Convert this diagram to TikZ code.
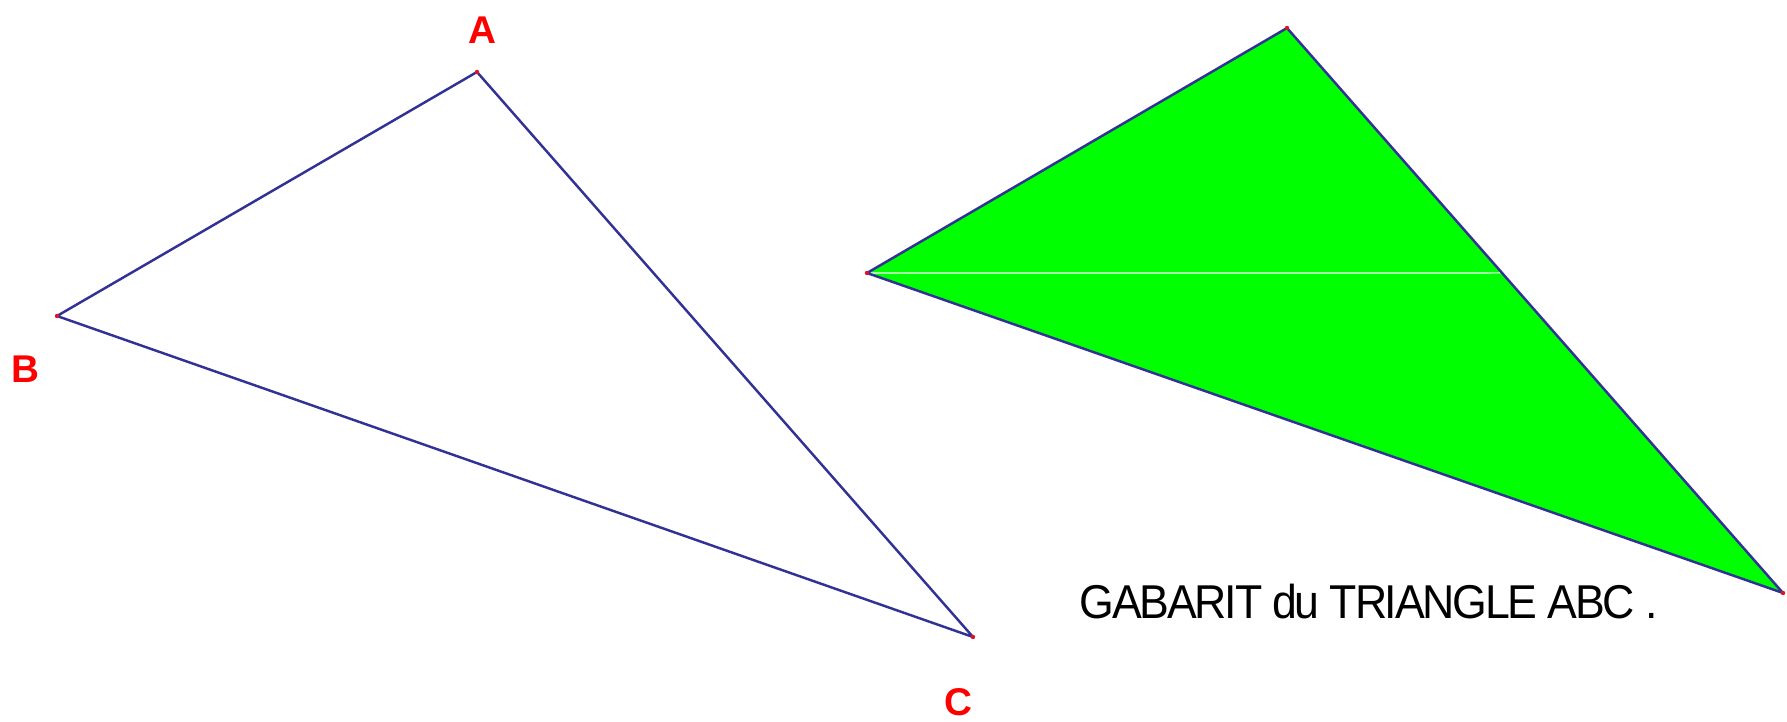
\documentclass[tikz,border=0pt]{standalone}
\usepackage{fontspec}
\setmainfont{Liberation Sans}
\usepackage{xcolor}
\usetikzlibrary{positioning,calc}

\definecolor{edgeblue}{RGB}{50,50,150}
\definecolor{pointred}{RGB}{220,20,40}
\definecolor{gabgreen}{RGB}{0,255,0}

\begin{document}
\begin{tikzpicture}[x=0.01cm,y=-0.01cm]
    \useasboundingbox (0,0) rectangle (1787,722);
    % triangle ABC
    \coordinate (A) at (477,72);
    \coordinate (B) at (57,316);
    \coordinate (C) at (973,637);
    \draw[edgeblue, line width=0.7pt, line join=round] (A) -- (B) -- (C) -- cycle;
    \foreach \p in {A,B,C} \fill[pointred] (\p) circle (2.2);
    \node[text=red, font=\bfseries\fontsize{11}{13}\selectfont] (labA) at (482,30) {A};
    \node[text=red, font=\bfseries\fontsize{11}{13}\selectfont] (labB) at (25,369) {B};
    \node[text=red, font=\bfseries\fontsize{11}{13}\selectfont] (labC) at (958,702) {C};
    
    % gabarit
    \coordinate (G1) at (1287,28);
    \coordinate (G2) at (867,273);
    \coordinate (G3) at (1783,593);
    \fill[gabgreen] (G1) -- (G2) -- (G3) -- cycle;
    \draw[white, line width=0.3pt] (G2) -- ($(G1)!0.4336!(G3)$);
    \draw[edgeblue, line width=0.7pt, line join=round] (G1) -- (G2) -- (G3) -- cycle;
    \foreach \p in {G1,G2,G3} \fill[pointred] (\p) circle (2.2);
    \node[font=\fontsize{13.5}{15}\selectfont\addfontfeatures{LetterSpace=-5}, anchor=west, inner sep=0pt] (titre) at (1079,602) {\scalebox{0.94}[1]{GABARIT du TRIANGLE ABC .}};
\end{tikzpicture}
\end{document}
